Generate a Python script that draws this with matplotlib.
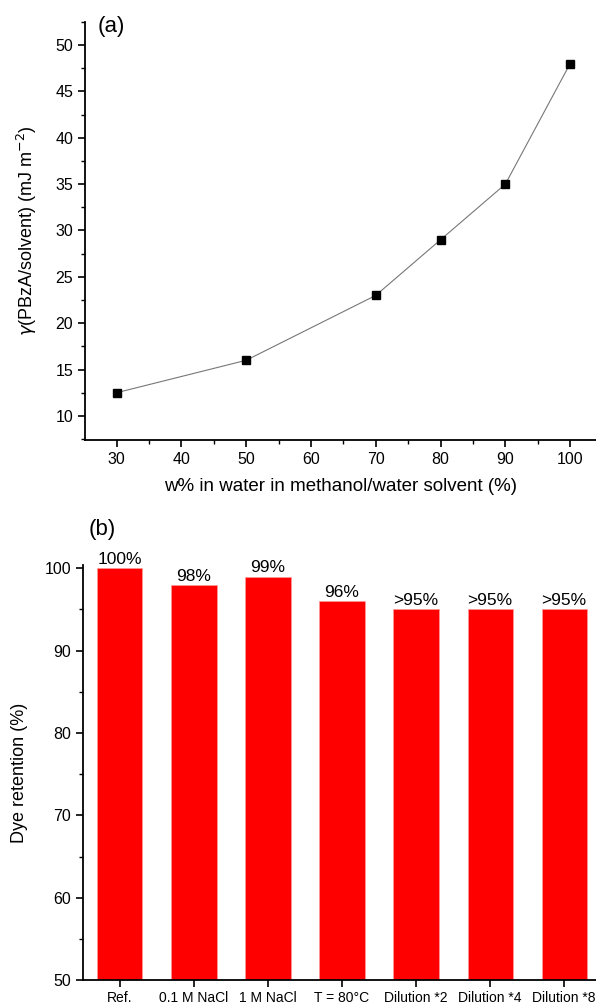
import matplotlib.pyplot as plt
from matplotlib.ticker import MultipleLocator

plt.rcParams['font.family'] = ['Liberation Sans', 'DejaVu Sans']

# panel (a)
water = [30, 50, 70, 80, 90, 100]
gamma = [12.5, 16, 23, 29, 35, 48]

# panel (b)
conditions = ['Ref.', '0.1 M NaCl', '1 M NaCl', 'T = 80°C',
              'Dilution *2', 'Dilution *4', 'Dilution *8']
retention = [100, 98, 99, 96, 95, 95, 95]
bar_labels = ['100%', '98%', '99%', '96%', '>95%', '>95%', '>95%']

fig = plt.figure(figsize=(5.96, 10.07), dpi=100)

# ---- (a) ----
ax1 = fig.add_axes([0.1426, 0.5631, 0.8574, 0.4151])
ax1.plot(water, gamma, '-', color='#777777', lw=0.8,
         marker='s', ms=6, mfc='black', mec='black')
ax1.set_xlim(25.1, 104)
ax1.set_ylim(7.4, 52.5)
ax1.xaxis.set_minor_locator(MultipleLocator(5))
ax1.yaxis.set_minor_locator(MultipleLocator(2.5))
ax1.set_xticks(range(30, 101, 10))
ax1.set_yticks(range(10, 51, 5))
for s in ['top', 'right']:
    ax1.spines[s].set_visible(False)
for s in ['left', 'bottom']:
    ax1.spines[s].set_linewidth(1.3)
ax1.tick_params(which='major', direction='out', length=5, width=1.2, labelsize=11.5)
ax1.tick_params(which='minor', direction='out', length=3, width=1.0)
ax1.set_xlabel('w% in water in methanol/water solvent (%)', fontsize=13.5, labelpad=8)
ax1.set_ylabel(r'$\gamma$(PBzA/solvent) (mJ m$^{-2}$)', fontsize=13, labelpad=12)
ax1.text(0.025, 0.99, '(a)', transform=ax1.transAxes, fontsize=16, va='center')

# ---- (b) ----
ax2 = fig.add_axes([0.139, 0.0268, 0.861, 0.4121])
x = range(len(conditions))
ax2.bar(x, retention, width=0.61, color='#ff0000', edgecolor='#ff9999', lw=0.5)
for xi, v, lab in zip(x, retention, bar_labels):
    ax2.text(xi, v + 0.15, lab, ha='center', va='bottom', fontsize=12.5)
ax2.set_xlim(-0.5, 6.43)
ax2.set_ylim(50, 100.4)
ax2.set_xticks(list(x))
ax2.set_xticklabels(conditions)
ax2.yaxis.set_major_locator(MultipleLocator(10))
ax2.yaxis.set_minor_locator(MultipleLocator(5))
for s in ['top', 'right']:
    ax2.spines[s].set_visible(False)
for s in ['left', 'bottom']:
    ax2.spines[s].set_linewidth(1.3)
ax2.tick_params(which='major', direction='out', length=5, width=1.2, labelsize=11.5)
ax2.tick_params(axis='x', pad=3, labelsize=10)
ax2.tick_params(which='minor', direction='out', length=3, width=1.0)
ax2.set_ylabel('Dye retention (%)', fontsize=13, labelpad=12)
ax2.text(0.012, 1.085, '(b)', transform=ax2.transAxes, fontsize=16, va='center')

fig.savefig('out.png', dpi=100)
